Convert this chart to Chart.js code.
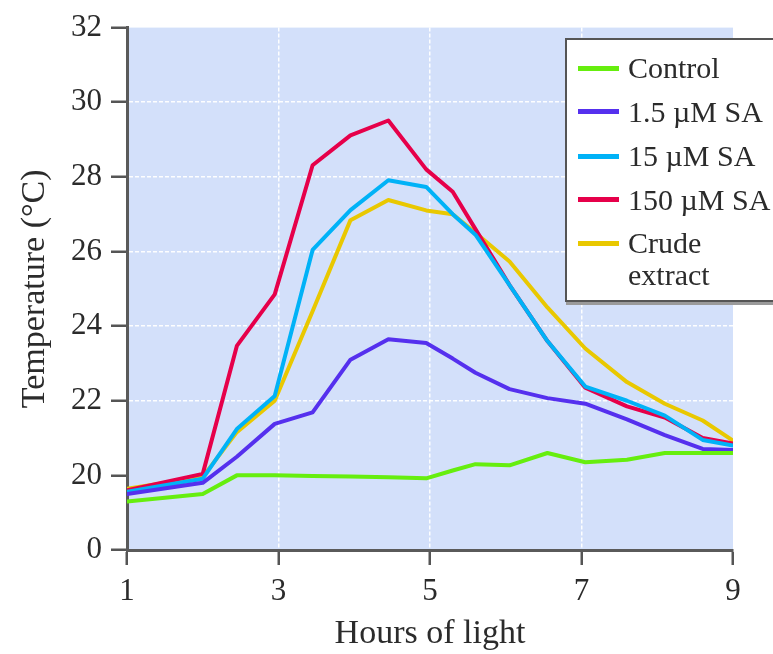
<!DOCTYPE html>
<html><head><meta charset="utf-8">
<script src="https://cdn.jsdelivr.net/npm/chart.js@4.4.0/dist/chart.umd.min.js"></script>
<style>
html,body{margin:0;padding:0;background:#fff;}
#wrap{position:relative;width:773px;height:654px;overflow:hidden;}
#legend{position:absolute;left:565px;top:38px;width:230px;height:260px;background:#fff;border:2px solid #555;box-shadow:1px 3px 0 #9a9a9a;font-family:"Liberation Serif",serif;font-size:30px;color:#2b2b2b;}
.sw{position:absolute;left:11px;width:41px;height:5px;}
.lb{position:absolute;left:61px;white-space:nowrap;line-height:32px;}
</style></head>
<body>
<div id="wrap">
<canvas id="c" width="773" height="654"></canvas>
<div id="legend"></div>
</div>
<script>
const hours = [1, 2, 2.45, 2.95, 3.45, 3.95, 4.45, 4.95, 5.3, 5.6, 6.05, 6.55, 7.05, 7.6, 8.1, 8.6, 9];
const control = [19.3, 19.5, 20.0, 20.0, 19.98, 19.97, 19.95, 19.92, 20.13, 20.3, 20.27, 20.6, 20.35, 20.42, 20.6, 20.6, 20.6];
const sa1_5 = [19.5, 19.8, 20.5, 21.38, 21.69, 23.1, 23.65, 23.55, 23.13, 22.75, 22.31, 22.07, 21.92, 21.5, 21.08, 20.71, 20.68];
const sa15 = [19.56, 19.91, 21.24, 22.13, 26.04, 27.11, 27.91, 27.73, 27.0, 26.45, 25.1, 23.6, 22.38, 22.0, 21.6, 20.95, 20.8];
const sa150 = [19.6, 20.04, 23.47, 24.85, 28.31, 29.11, 29.51, 28.2, 27.6, 26.6, 25.1, 23.6, 22.35, 21.85, 21.55, 21.0, 20.85];
const crude = [19.64, 19.96, 21.16, 22.0, 24.4, 26.84, 27.38, 27.1, 27.0, 26.5, 25.73, 24.5, 23.4, 22.5, 21.92, 21.47, 20.93];
const labels = ["Control", "1.5 µM SA", "15 µM SA", "150 µM SA", "Crude\nextract"];
const colors = ["#66ee0e", "#5530ee", "#00b2f7", "#e6004a", "#e9c800"];
const seriesList = [control, sa1_5, sa15, sa150, crude];
const xTicks = [1, 3, 5, 7, 9];
const yTicks = [18, 20, 22, 24, 26, 28, 30, 32]; // 18 is shown as "0" (axis break)

const datasets = seriesList.map((s, k) => ({
  label: labels[k],
  data: hours.map((h, i) => ({x: h, y: s[i]})),
  borderColor: colors[k],
  backgroundColor: colors[k],
  borderWidth: 4,
  pointRadius: 0,
  tension: 0,
  borderJoinStyle: 'round',
  borderCapStyle: 'round',
  fill: false
}));

const bgPlugin = {
  id: 'bg',
  beforeDraw(chart) {
    const {ctx, chartArea: a} = chart;
    ctx.save();
    ctx.fillStyle = '#d3e0fa';
    ctx.fillRect(a.left, a.top, a.right - a.left, a.bottom - a.top);
    ctx.restore();
  }
};

const font = "'Liberation Serif', serif";
new Chart(document.getElementById('c'), {
  type: 'line',
  data: {datasets},
  plugins: [bgPlugin],
  options: {
    responsive: false,
    animation: false,
    layout: {padding: {top: 25, right: 40, left: 0, bottom: 0}},
    plugins: {legend: {display: false}, tooltip: {enabled: false}},
    scales: {
      x: {
        type: 'linear', min: 1, max: 9,
        afterBuildTicks: s => { s.ticks = xTicks.map(v => ({value: v})); },
        afterFit: s => { s.height = 104; },
        ticks: {font: {family: font, size: 31}, color: '#2b2b2b', padding: 8},
        grid: {
          color: c => (c.tick && c.tick.value > 1 && c.tick.value < 9) ? 'rgba(255,255,255,0.95)' : 'rgba(0,0,0,0)',
          lineWidth: 1.5, tickColor: '#555', tickWidth: 2.5, tickLength: 15, tickBorderDash: []
        },
        border: {display: true, color: '#5a5a5a', width: 3, dash: [4, 2]},
        title: {display: true, text: 'Hours of light', font: {family: font, size: 34}, color: '#2b2b2b', padding: {top: 0, bottom: 0}}
      },
      y: {
        type: 'linear', min: 18, max: 32,
        afterBuildTicks: s => { s.ticks = yTicks.map(v => ({value: v})); },
        afterFit: s => { s.width = 127; },
        ticks: {font: {family: font, size: 31}, color: '#2b2b2b', padding: 9, callback: v => v === 18 ? '0' : String(v)},
        grid: {
          color: c => (c.tick && c.tick.value >= 22 && c.tick.value <= 30) ? 'rgba(255,255,255,0.95)' : 'rgba(0,0,0,0)',
          lineWidth: 1.5, tickColor: '#555', tickWidth: 2.5, tickLength: 16, tickBorderDash: []
        },
        border: {display: true, color: '#5a5a5a', width: 3, dash: [4, 2]},
        title: {display: true, text: 'Temperature (°C)', font: {family: font, size: 34}, color: '#2b2b2b', padding: {top: 15, bottom: 0}}
      }
    }
  }
});

// HTML legend built from the series definitions
const centers = [28, 71.5, 116, 159.5, 203];
const lg = document.getElementById('legend');
labels.forEach((lab, k) => {
  const sw = document.createElement('div');
  sw.className = 'sw';
  sw.style.top = (centers[k] - 2.5) + 'px';
  sw.style.background = colors[k];
  lg.appendChild(sw);
  const t = document.createElement('div');
  t.className = 'lb';
  t.style.top = (centers[k] - 16) + 'px';
  t.innerHTML = lab.split('\n').join('<br>');
  lg.appendChild(t);
});
</script>
</body></html>
